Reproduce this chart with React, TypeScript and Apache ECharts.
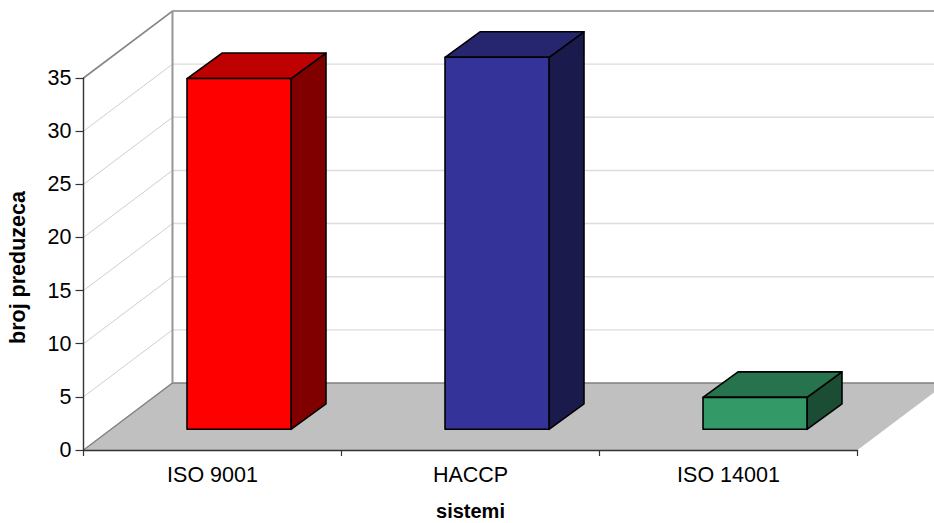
import React, { useEffect, useRef } from "react";
import * as echarts from "echarts";

const categories = ["ISO 9001", "HACCP", "ISO 14001"];
const values = [33, 35, 3];
const frontColors = ["#ff0000", "#333399", "#339966"];
const topColors = ["#bf0000", "#26266f", "#26734d"];
const sideColors = ["#800000", "#1a1a4d", "#1a4d33"];
const gridTicks = [5, 10, 15, 20, 25, 30, 35];
const yAxisTitle = "broj preduzeca";
const xAxisTitle = "sistemi";

const FONT = "'Liberation Sans', Arial, sans-serif";
const ROOM_DX = 89;
const ROOM_DY = -67;
const BAR_SHIFT_X = 26.5;
const BAR_SHIFT_Y = -20.7;
const BAR_DX = 35;
const BAR_DY = -25.5;

function poly(points: number[][], fill: string, stroke?: string, lineWidth = 1.6) {
  return {
    type: "polygon",
    shape: { points },
    style: { fill, stroke: stroke ?? "none", lineWidth, lineJoin: "round" },
  };
}
function line(points: number[][], stroke: string, lineWidth: number) {
  return {
    type: "polyline",
    shape: { points },
    style: { fill: "none", stroke, lineWidth },
  };
}

export default function App() {
  const ref = useRef<HTMLDivElement>(null);
  useEffect(() => {
    const chart = echarts.init(ref.current!, undefined, { renderer: "svg" });
    chart.setOption({
      animation: false,
      backgroundColor: "#ffffff",
      textStyle: { fontFamily: FONT },
      grid: { left: 83.5, top: 78, width: 774, height: 372, containLabel: false, outerBoundsMode: "none" },
      xAxis: {
        type: "category",
        data: categories,
        z: 10,
        name: xAxisTitle,
        nameLocation: "middle",
        nameGap: 52,
        nameTextStyle: { fontFamily: FONT, fontSize: 20, lineHeight: 18, fontWeight: "bold", color: "#000" },
        axisLine: { show: true, lineStyle: { color: "#333", width: 1.4 } },
        axisTick: { show: true, alignWithLabel: false, length: 6, lineStyle: { color: "#333", width: 1.2 } },
        axisLabel: { fontFamily: FONT, fontSize: 21.5, color: "#000", margin: 14 },
        splitLine: { show: false },
      },
      yAxis: {
        type: "value",
        min: 0,
        max: 35,
        interval: 5,
        z: 10,
        name: yAxisTitle,
        nameLocation: "middle",
        nameGap: 57,
        nameRotate: 90,
        nameTextStyle: { fontFamily: FONT, fontSize: 21.5, lineHeight: 18, fontWeight: "bold", color: "#000", padding: [0, 7, 0, 0] },
        axisLine: { show: true, lineStyle: { color: "#333", width: 1.4 } },
        axisTick: { show: true, length: 8, lineStyle: { color: "#333", width: 1.2 } },
        axisLabel: { fontFamily: FONT, fontSize: 21.5, color: "#000", margin: 12 },
        splitLine: { show: false },
      },
      series: [
        {
          type: "custom",
          silent: true,
          z: 1,
          clip: false,
          data: gridTicks.map((t) => [0, t]),
          encode: { x: 0, y: 1 },
          renderItem: (params: any, api: any) => {
            const cs = params.coordSys;
            const y = api.coord([0, api.value(1)])[1];
            const x0 = cs.x;
            const bx = x0 + ROOM_DX;
            const by = y + ROOM_DY;
            const fr = x0 + cs.width;
            const isTop = api.value(1) === gridTicks[gridTicks.length - 1];
            const children: any[] = [];
            if (params.dataIndex === 0) {
              const yb = cs.y + cs.height;
              children.push(
                poly([[x0, yb], [fr, yb], [fr + ROOM_DX, yb + ROOM_DY], [bx, yb + ROOM_DY]], "#c0c0c0"),
                line([[x0, yb], [bx, yb + ROOM_DY], [fr + ROOM_DX, yb + ROOM_DY]], "#808080", 1.4),
              );
            }
            if (isTop) {
              children.push(
                line([[x0, y], [bx, by], [fr + ROOM_DX, by]], "#868686", 1.6),
                line([[bx, by], [bx, cs.y + cs.height + ROOM_DY]], "#969696", 2),
              );
            } else {
              children.push(
                line([[x0, y], [bx, by]], "#cfcfcf", 1),
                line([[bx, by], [fr + ROOM_DX, by]], "#dcdcdc", 1.4),
              );
            }
            return { type: "group", children };
          },
        },
        {
          type: "custom",
          silent: true,
          z: 2,
          clip: false,
          data: values.map((v, i) => [i, v]),
          encode: { x: 0, y: 1 },
          renderItem: (params: any, api: any) => {
            const i = api.value(0);
            const base = api.coord([i, 0]);
            const top = api.coord([i, api.value(1)]);
            const w = api.size([1, 0])[0] * 0.403;
            const l = base[0] - w / 2 + BAR_SHIFT_X;
            const r = l + w;
            const b = base[1] + BAR_SHIFT_Y;
            const t = top[1] + BAR_SHIFT_Y;
            return {
              type: "group",
              children: [
                poly([[r, t], [r + BAR_DX, t + BAR_DY], [r + BAR_DX, b + BAR_DY], [r, b]], sideColors[i], "#000"),
                poly([[l, t], [l + BAR_DX, t + BAR_DY], [r + BAR_DX, t + BAR_DY], [r, t]], topColors[i], "#000"),
                poly([[l, t], [r, t], [r, b], [l, b]], frontColors[i], "#000"),
              ],
            };
          },
        },
      ],
    });
    return () => chart.dispose();
  }, []);
  return <div ref={ref} style={{ position: "absolute", left: 0, top: 0, width: 934, height: 523 }} />;
}
